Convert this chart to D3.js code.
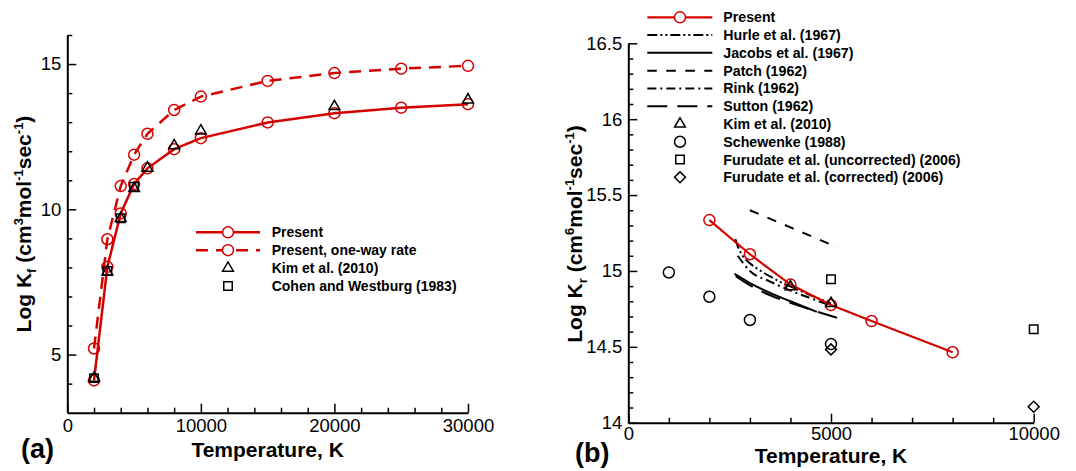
<!DOCTYPE html>
<html><head><meta charset="utf-8">
<script src="https://cdn.jsdelivr.net/npm/d3@7"></script>
<style>
body{margin:0;background:#fff}
svg{display:block;font-family:"Liberation Sans",Arial,Helvetica,sans-serif}
</style></head><body>
<svg id="c" width="1076" height="471"></svg>
<script>
// ---------- Panel (a) data ----------
const tempA      = [2000,3000,4000,5000,6000,8000,10000,15000,20000,25000,30000];
const presentA   = [4.11,8.02,9.86,10.87,11.41,12.07,12.45,12.99,13.31,13.50,13.62];
const oneWayA    = [5.21,8.97,10.80,11.88,12.60,13.42,13.88,14.42,14.69,14.84,14.94];
const kimTempA   = [2000,3000,4000,5000,6000,8000,10000,20000,30000];
const kimA       = [4.19,7.85,9.69,10.72,11.42,12.19,12.70,13.54,13.77];
const cohenTempA = [2000,3000,4000,5000];
const cohenA     = [4.19,7.88,9.69,10.78];
const xMajorA = [0,10000,20000,30000];
const xMajorLabelsA = ["0","10000","20000","30000"];
const xMinorA = [2000,4000,6000,8000,12000,14000,16000,18000,22000,24000,26000,28000];
const yMajorA = [5,10,15];
const yMajorLabelsA = ["5","10","15"];
const yMinorA = [4,6,7,8,9,11,12,13,14,16];
const legendA = ["Present","Present, one-way rate","Kim et al. (2010)","Cohen and Westburg (1983)"];

// ---------- Panel (b) data ----------
const presentTempB = [2000,3000,4000,5000,6000,8000];
const presentB     = [15.335,15.11,14.91,14.775,14.67,14.464];
const hurleTemp  = [2640,2720,2820,3000,3300,3700,4100,4500,5000];
const hurle      = [15.21,15.15,15.10,15.05,14.995,14.935,14.885,14.84,14.785];
const jacobsTemp = [2620,3000,3500,4000,4650];
const jacobs     = [14.98,14.92,14.855,14.80,14.73];
const patchTemp  = [3000,4000,5160];
const patch      = [15.40,15.287,15.155];
const rinkTemp   = [2700,3000,3500,4000,4500,5000];
const rink       = [15.10,15.00,14.93,14.87,14.82,14.77];
const suttonTemp = [2650,3000,3500,4000,4500,5350];
const sutton     = [14.965,14.905,14.84,14.79,14.745,14.675];
const kimTempB   = [4000,5000];
const kimB       = [14.896,14.786];
const schewTemp  = [1000,2000,3000,5000];
const schew      = [14.99,14.83,14.677,14.518];
const furUncTemp = [5000,10000];
const furUnc     = [14.945,14.615];
const furCorTemp = [5000,10000];
const furCor     = [14.483,14.105];
const xMajorB = [0,5000,10000];
const xMajorLabelsB = ["0","5000","10000"];
const xMinorB = [1000,2000,3000,4000,6000,7000,8000,9000];
const yMajorB = [14,14.5,15,15.5,16,16.5];
const yMajorLabelsB = ["14","14.5","15","15.5","16","16.5"];
const yMinorB = [14.1,14.2,14.3,14.4,14.6,14.7,14.8,14.9,15.1,15.2,15.3,15.4,15.6,15.7,15.8,15.9,16.1,16.2,16.3,16.4];
const legendB = ["Present","Hurle et al. (1967)","Jacobs et al. (1967)","Patch (1962)","Rink (1962)","Sutton (1962)","Kim et al. (2010)","Schewenke (1988)","Furudate et al. (uncorrected) (2006)","Furudate et al. (corrected) (2006)"];

// ---------- drawing ----------
const RED = "#d40000";
const svg = d3.select("#c");

function zip(xs, ys){ return xs.map((v,i)=>[v, ys[i]]); }

function axes(g, x, y, xMaj, xLab, xMin, yMaj, yLab, yMin, xPad){
  const y0 = y.range()[0], x0 = x.range()[0];
  const fx = d => xLab[xMaj.indexOf(d)], fy = d => yLab[yMaj.indexOf(d)];
  const ax = g.append("g").attr("transform",`translate(0,${y0})`)
    .call(d3.axisBottom(x).tickValues(xMaj).tickFormat(fx).tickSize(-9).tickSizeOuter(0).tickPadding(xPad));
  const axm = g.append("g").attr("transform",`translate(0,${y0})`)
    .call(d3.axisBottom(x).tickValues(xMin).tickFormat("").tickSize(-5).tickSizeOuter(0));
  axm.select(".domain").remove();
  const ay = g.append("g").attr("transform",`translate(${x0},0)`)
    .call(d3.axisLeft(y).tickValues(yMaj).tickFormat(fy).tickSize(-9).tickSizeOuter(0).tickPadding(6));
  const aym = g.append("g").attr("transform",`translate(${x0},0)`)
    .call(d3.axisLeft(y).tickValues(yMin).tickFormat("").tickSize(-5).tickSizeOuter(0));
  aym.select(".domain").remove();
  [ax,axm,ay,aym].forEach(a=>{
    a.attr("font-family",null).attr("font-size",null);
    a.selectAll("text").attr("font-size","18.5px").attr("fill","#000");
    a.selectAll(".tick line").attr("stroke","#000").attr("stroke-width",1.5);
    a.select(".domain").attr("stroke","#000").attr("stroke-width",2);
  });
}

function yTitle(g, x, y, sub, sup1){
  const t = g.append("text").attr("transform",`translate(${x},${y}) rotate(-90)`)
    .attr("text-anchor","middle").attr("font-weight","bold").attr("font-size","21px").attr("fill","#000");
  t.append("tspan").text("Log K");
  t.append("tspan").attr("font-size","13px").attr("dy","5").text(sub);
  t.append("tspan").attr("dy","-5").text(" (cm");
  t.append("tspan").attr("font-size","13px").attr("dy","-8").text(sup1);
  t.append("tspan").attr("dy","8").text("mol");
  t.append("tspan").attr("font-size","13px").attr("dy","-8").text("-1");
  t.append("tspan").attr("dy","8").text("sec");
  t.append("tspan").attr("font-size","13px").attr("dy","-8").text("-1");
  t.append("tspan").attr("dy","8").text(")");
}

function marker(g, type, cx, cy, color, fill){
  let s;
  if(type==="circle") s = g.append("circle").attr("cx",cx).attr("cy",cy).attr("r",5.5);
  else if(type==="triangle") s = g.append("path").attr("d",d3.symbol(d3.symbolTriangle,50)()).attr("transform",`translate(${cx},${cy})`);
  else if(type==="square") s = g.append("path").attr("d",d3.symbol(d3.symbolSquare,72)()).attr("transform",`translate(${cx},${cy})`);
  else if(type==="diamond") s = g.append("path").attr("d",d3.symbol(d3.symbolSquare,60)()).attr("transform",`translate(${cx},${cy}) rotate(45)`);
  s.attr("fill",fill||"none").attr("stroke",color).attr("stroke-width",1.5);
}

// ===== Panel (a) =====
{
  const g = svg.append("g");
  const x = d3.scaleLinear().domain([0,30000]).range([67.3,468]);
  const y = d3.scaleLinear().domain([3,16]).range([412.7,35]);
  const line = d3.line().x(d=>x(d[0])).y(d=>y(d[1]));
  g.append("path").attr("d",line(zip(tempA,presentA))).attr("fill","none").attr("stroke",RED).attr("stroke-width",2.5);
  g.append("path").attr("d",line(zip(tempA,oneWayA))).attr("fill","none").attr("stroke",RED).attr("stroke-width",2.5).attr("stroke-dasharray","12,8");
  zip(tempA,presentA).forEach(d=>marker(g,"circle",x(d[0]),y(d[1]),RED));
  zip(tempA,oneWayA).forEach(d=>marker(g,"circle",x(d[0]),y(d[1]),RED));
  zip(kimTempA,kimA).forEach(d=>marker(g,"triangle",x(d[0]),y(d[1]),"#000"));
  zip(cohenTempA,cohenA).forEach(d=>marker(g,"square",x(d[0]),y(d[1]),"#000"));
  axes(g,x,y,xMajorA,xMajorLabelsA,xMinorA,yMajorA,yMajorLabelsA,yMinorA,6);
  yTitle(g,31,224,"f","3");
  g.append("text").attr("x",(x.range()[0]+x.range()[1])/2).attr("y",456.5).attr("text-anchor","middle")
    .attr("font-weight","bold").attr("font-size","21px").text("Temperature, K");
  g.append("text").attr("x",21).attr("y",458).attr("font-weight","bold").attr("font-size","27px").text("(a)");
  // legend
  const lg = g.append("g");
  const ly0 = 232.3, dyL = 17.9;
  legendA.forEach((name,i)=>{
    const yy = ly0 + i*dyL;
    if(i<2){
      lg.append("line").attr("x1",196).attr("x2",260).attr("y1",yy).attr("y2",yy)
        .attr("stroke",RED).attr("stroke-width",2.5).attr("stroke-dasharray",i===1?"12,8":null);
      marker(lg,"circle",228,yy,RED,"#fff");
    } else marker(lg, i===2?"triangle":"square", 228, yy, "#000");
    lg.append("text").attr("x",271.7).attr("y",yy+5).attr("font-weight","bold").attr("font-size","14px").text(name);
  });
}

// ===== Panel (b) =====
{
  const g = svg.append("g");
  const x = d3.scaleLinear().domain([0,10000]).range([628.3,1033.7]);
  const y = d3.scaleLinear().domain([14,16.5]).range([422.7,43.3]);
  const line = d3.line().x(d=>x(d[0])).y(d=>y(d[1]));
  const curve = d3.line().x(d=>x(d[0])).y(d=>y(d[1])).curve(d3.curveMonotoneX);
  const styles = [
    {xs:hurleTemp, ys:hurle, dash:"10,3,2,3,2,3"},
    {xs:jacobsTemp, ys:jacobs, dash:null},
    {xs:patchTemp, ys:patch, dash:"9.5,9.5"},
    {xs:rinkTemp, ys:rink, dash:"9,4,2,4"},
    {xs:suttonTemp, ys:sutton, dash:"20,10"}
  ];
  styles.forEach(s=>{
    g.append("path").attr("d",curve(zip(s.xs,s.ys))).attr("fill","none").attr("stroke","#000")
      .attr("stroke-width",2).attr("stroke-dasharray",s.dash);
  });
  g.append("path").attr("d",line(zip(presentTempB,presentB))).attr("fill","none").attr("stroke",RED).attr("stroke-width",2.2);
  zip(presentTempB,presentB).forEach(d=>marker(g,"circle",x(d[0]),y(d[1]),RED));
  zip(kimTempB,kimB).forEach(d=>marker(g,"triangle",x(d[0]),y(d[1]),"#000"));
  zip(schewTemp,schew).forEach(d=>marker(g,"circle",x(d[0]),y(d[1]),"#000"));
  zip(furUncTemp,furUnc).forEach(d=>marker(g,"square",x(d[0]),y(d[1]),"#000"));
  zip(furCorTemp,furCor).forEach(d=>marker(g,"diamond",x(d[0]),y(d[1]),"#000"));
  axes(g,x,y,xMajorB,xMajorLabelsB,xMinorB,yMajorB,yMajorLabelsB,yMinorB,4);
  yTitle(g,582,234,"r","6");
  g.append("text").attr("x",(x.range()[0]+x.range()[1])/2).attr("y",463).attr("text-anchor","middle")
    .attr("font-weight","bold").attr("font-size","21px").text("Temperature, K");
  g.append("text").attr("x",575).attr("y",462).attr("font-weight","bold").attr("font-size","27px").text("(b)");
  // legend
  const lg = g.append("g");
  const ly0 = 17.3, dyL = 17.78;
  const lineDash = [null,"10,3,2,3,2,3",null,"9.5,9.5","9,4,2,4","20,10"];
  const mk = {6:"triangle",7:"circle",8:"square",9:"diamond"};
  legendB.forEach((name,i)=>{
    const yy = ly0 + i*dyL;
    if(i===0){
      lg.append("line").attr("x1",647.3).attr("x2",712.3).attr("y1",yy).attr("y2",yy).attr("stroke",RED).attr("stroke-width",2.2);
      marker(lg,"circle",680,yy,RED,"#fff");
    } else if(i<6){
      lg.append("line").attr("x1",647.3).attr("x2",712.3).attr("y1",yy).attr("y2",yy).attr("stroke","#000")
        .attr("stroke-width",2).attr("stroke-dasharray",lineDash[i]);
    } else marker(lg, mk[i], 680, yy, "#000");
    lg.append("text").attr("x",723.3).attr("y",yy+5).attr("font-weight","bold").attr("font-size","14.2px").text(name);
  });
}
</script>
</body></html>
